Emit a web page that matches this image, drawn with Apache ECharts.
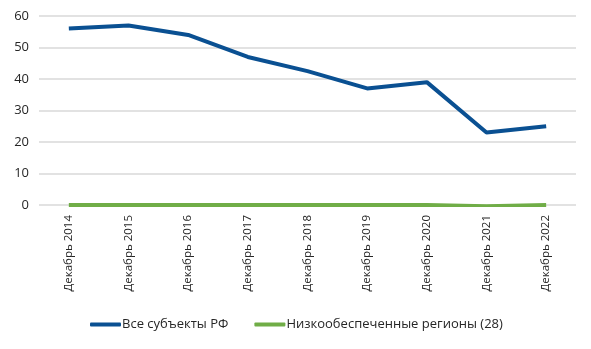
<!DOCTYPE html>
<html>
<head>
<meta charset="utf-8">
<script src="https://cdn.jsdelivr.net/npm/echarts@6/dist/echarts.min.js"></script>
<style>
    html, body { margin: 0; padding: 0; background: #fff; }
    #lineChart { width: 591px; height: 349px; }
</style>
</head>
<body>
<div id="lineChart"></div>
<script>
    // данные
    var categories = ['Декабрь 2014', 'Декабрь 2015', 'Декабрь 2016', 'Декабрь 2017', 'Декабрь 2018',
        'Декабрь 2019', 'Декабрь 2020', 'Декабрь 2021', 'Декабрь 2022'];
    var allRegions = [56, 57, 54, 47, 42.5, 37, 39, 23, 25];
    var lowRegions = [0, 0, 0, 0, 0, 0, 0, -0.4, 0];
    var yTicks = [0, 10, 20, 30, 40, 50, 60];

    var myChart = echarts.init(document.getElementById('lineChart'));
    var fontName = 'Open Sans';
    var textColor = '#262626';
    var option = {
        animation: false,
        grid: {
            top: 16,
            left: 39,
            right: 15,
            bottom: 144
        },
        legend: {
            bottom: 13,
            left: 85,
            itemWidth: 31,
            itemHeight: 4,
            itemGap: 26,
            icon: 'roundRect',
            textStyle: {
                color: textColor,
                fontSize: 13,
                fontFamily: fontName,
                padding: [0, 0, 0, -4]
            },
            data: ['Все субъекты РФ', 'Низкообеспеченные регионы (28)']
        },
        xAxis: {
            type: 'category',
            data: categories,
            boundaryGap: true,
            axisLine: { show: false },
            axisTick: { show: false },
            axisLabel: {
                rotate: 90,
                color: textColor,
                fontSize: 11.5,
                fontFamily: fontName,
                margin: 10
            }
        },
        yAxis: {
            type: 'value',
            min: yTicks[0],
            max: yTicks[yTicks.length - 1],
            interval: 10,
            axisLine: { show: false },
            axisTick: { show: false },
            axisLabel: {
                color: textColor,
                fontSize: 13,
                fontFamily: fontName,
                margin: 10
            },
            splitLine: {
                lineStyle: { color: '#d9d9d9', width: 1.5 }
            }
        },
        series: [
            {
                name: 'Все субъекты РФ',
                type: 'line',
                data: allRegions,
                symbol: 'none',
                lineStyle: { color: '#0a5092', width: 4 },
                itemStyle: { color: '#0a5092' }
            },
            {
                name: 'Низкообеспеченные регионы (28)',
                type: 'line',
                data: lowRegions,
                symbol: 'none',
                lineStyle: { color: '#70ad47', width: 4 },
                itemStyle: { color: '#70ad47' }
            }
        ]
    };
    myChart.setOption(option);
</script>
</body>
</html>
